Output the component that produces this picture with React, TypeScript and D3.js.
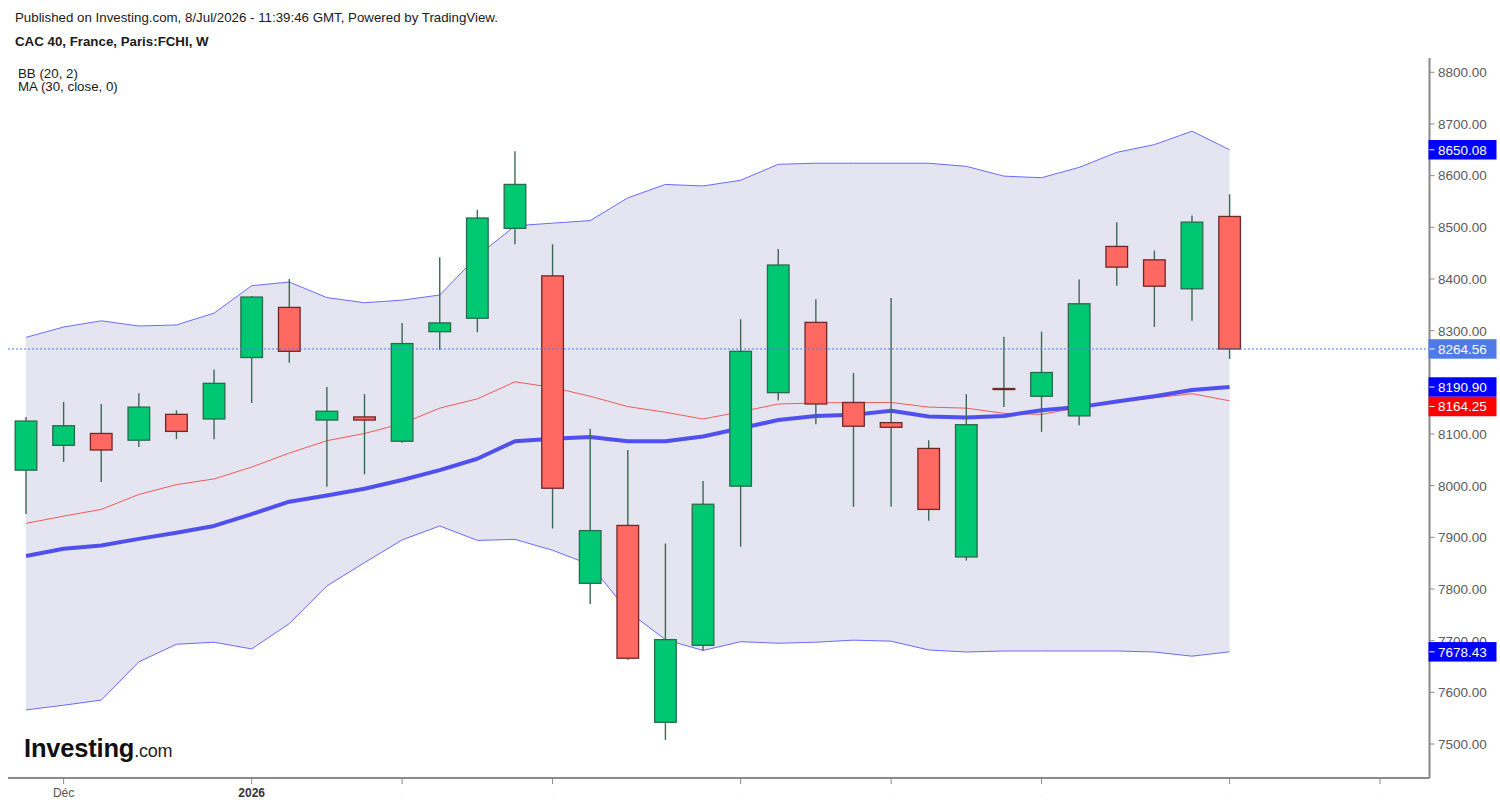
import React, { useEffect } from "react";
import * as d3 from "d3";

const weeks = [
  "2025-11-24", "2025-12-01", "2025-12-08", "2025-12-15", "2025-12-22", "2025-12-29",
  "2026-01-05", "2026-01-12", "2026-01-19", "2026-01-26", "2026-02-02", "2026-02-09",
  "2026-02-16", "2026-02-23", "2026-03-02", "2026-03-09", "2026-03-16", "2026-03-23",
  "2026-03-30", "2026-04-06", "2026-04-13", "2026-04-20", "2026-04-27", "2026-05-04",
  "2026-05-11", "2026-05-18", "2026-05-25", "2026-06-01", "2026-06-08", "2026-06-15",
  "2026-06-22", "2026-06-29", "2026-07-06",
];

const openP = [8030, 8078, 8101, 8088, 8138, 8129, 8248, 8345, 8127, 8133, 8086, 8298, 8324, 8498, 8406, 7811, 7923, 7542, 7691, 7999, 8180, 8316, 8161, 8122, 8072, 7862, 8188, 8173, 8135, 8463, 8437, 8381, 8521];
const closeP = [8125, 8116, 8069, 8152, 8105, 8198, 8365, 8260, 8144, 8127, 8275, 8315, 8518, 8583, 7995, 7913, 7666, 7702, 7964, 8260, 8427, 8158, 8115, 8113, 7954, 8118, 8186, 8219, 8352, 8423, 8386, 8510, 8264.56];
const highP = [8133, 8162, 8158, 8179, 8146, 8225, 8367, 8400, 8191, 8177, 8315, 8442, 8534, 8647, 8467, 8110, 8069, 7888, 8009, 8322, 8458, 8361, 8218, 8363, 8088, 8177, 8288, 8298, 8399, 8510, 8455, 8523, 8564];
const lowP = [7945, 8046, 8007, 8075, 8090, 8090, 8160, 8238, 7998, 8022, 8083, 8263, 8297, 8467, 7917, 7771, 7663, 7508, 7681, 7882, 8165, 8119, 7959, 7959, 7932, 7855, 8152, 8104, 8117, 8387, 8307, 8319, 8245];

const upperBand = [8287, 8307, 8319, 8309, 8311, 8334, 8387, 8394, 8364, 8354, 8359, 8369, 8444, 8503, 8508, 8513, 8557, 8583, 8580, 8591, 8622, 8624, 8624, 8624, 8624, 8618, 8599, 8596, 8616, 8645, 8660, 8686, 8650.08];
const lowerBand = [7566, 7575, 7585, 7659, 7693, 7697, 7684, 7733, 7806, 7851, 7895, 7922, 7894, 7896, 7875, 7847, 7757, 7702, 7681, 7698, 7695, 7697, 7701, 7699, 7682, 7678, 7680, 7680, 7680, 7680, 7678, 7670, 7678.43];
const basisBand = [7927, 7941, 7954, 7983, 8002, 8013, 8036, 8063, 8087, 8101, 8120, 8150, 8168, 8201, 8190, 8173, 8153, 8142, 8129, 8143, 8158, 8160, 8161, 8161, 8152, 8150, 8140, 8138, 8151, 8162, 8170, 8178, 8164.25];
const ma30 = [7864, 7878, 7884, 7897, 7909, 7922, 7945, 7969, 7981, 7994, 8011, 8030, 8052, 8086, 8091, 8094, 8086, 8086, 8095, 8111, 8127, 8135, 8137, 8145, 8134, 8132, 8135, 8146, 8152, 8163, 8173, 8185, 8190.90];

const priceTicks = [7500, 7600, 7700, 7800, 7900, 8000, 8100, 8200, 8300, 8400, 8500, 8600, 8700, 8800];
const timeTicks = ["2025-12-01", "2026-01-05", "2026-02-02", "2026-03-02", "2026-04-06", "2026-05-04", "2026-06-01", "2026-07-06", "2026-08-03"];
const timeTickLabels = ["Déc", "2026", "", "", "", "", "", "", ""];

const FONT = "'Liberation Sans', Arial, sans-serif";

export default function App() {
  useEffect(() => {
    document.body.style.margin = "0";
  }, []);

  const W = 1500;
  const H = 807;
  const parse = d3.utcParse("%Y-%m-%d");
  const dates = weeks.map((w) => parse(w) as Date);
  const x = d3.scaleUtc().domain([dates[0], dates[dates.length - 1]]).range([26, 1229.6]);
  const y = d3.scaleLinear().domain([7500, 8800]).range([744, 72.3]);

  const plotLeft = 8;
  const axisX = 1429.5;
  const axisY = 778;
  const step = x(dates[1]) - x(dates[0]);
  const bodyW = step * 0.575;

  const lineGen = d3
    .line<number>()
    .x((_, i) => x(dates[i]))
    .y((d) => y(d));
  const areaGen = d3
    .area<number>()
    .x((_, i) => x(dates[i]))
    .y0((_, i) => y(lowerBand[i]))
    .y1((d) => y(d));

  const last = closeP.length - 1;
  const tagDefs = [
    { v: upperBand[last], c: "#0000ff" },
    { v: closeP[last], c: "#4f7be8" },
    { v: ma30[last], c: "#0000ff" },
    { v: basisBand[last], c: "#ff0000" },
    { v: lowerBand[last], c: "#0000ff" },
  ];
  const tagH = 19.5;
  const tags = tagDefs
    .map((t) => ({ ...t, cy: y(t.v) }))
    .sort((a, b) => a.cy - b.cy);
  for (let i = 1; i < tags.length; i++) {
    if (tags[i].cy < tags[i - 1].cy + tagH) tags[i].cy = tags[i - 1].cy + tagH;
  }

  return (
    <svg
      width={W}
      height={H}
      style={{ position: "absolute", left: 0, top: 0, background: "#fff" }}
      fontFamily={FONT}
    >
      <rect x={0} y={0} width={W} height={H} fill="#ffffff" />
      {/* header */}
      <text x={15} y={22} fontSize={13.3} fill="#1a1a1a">
        Published on Investing.com, 8/Jul/2026 - 11:39:46 GMT, Powered by TradingView.
      </text>
      <text x={15} y={45.5} fontSize={13.3} fontWeight="bold" fill="#1a1a1a">
        CAC 40, France, Paris:FCHI, W
      </text>
      <text x={18} y={77.5} fontSize={13.3} fill="#1a1a1a">
        BB (20, 2)
      </text>
      <text x={18} y={91} fontSize={13.3} fill="#1a1a1a">
        MA (30, close, 0)
      </text>

      {/* Bollinger band fill */}
      <path d={areaGen(upperBand) || ""} fill="#e5e5f1" />
      <path d={lineGen(upperBand) || ""} fill="none" stroke="#6a6aff" strokeWidth={1} />
      <path d={lineGen(lowerBand) || ""} fill="none" stroke="#6a6aff" strokeWidth={1} />
      <path d={lineGen(basisBand) || ""} fill="none" stroke="#ee5a5a" strokeWidth={1} />
      <path d={lineGen(ma30) || ""} fill="none" stroke="#5050ee" strokeWidth={4} strokeLinejoin="round" />

      {/* candles */}
      {dates.map((d, i) => {
        const cx = x(d);
        const up = closeP[i] >= openP[i];
        const top = y(Math.max(openP[i], closeP[i]));
        const bot = y(Math.min(openP[i], closeP[i]));
        const h = Math.max(1, bot - top);
        return (
          <g key={i}>
            <line
              x1={cx}
              x2={cx}
              y1={y(highP[i])}
              y2={y(lowP[i])}
              stroke="#3b6a55"
              strokeWidth={1.4}
            />
            <rect
              x={cx - bodyW / 2}
              y={top}
              width={bodyW}
              height={h}
              fill={up ? "#00c872" : "#ff6961"}
              stroke={up ? "#2a6a4c" : "#6e2828"}
              strokeWidth={1.3}
            />
          </g>
        );
      })}

      {/* last price dotted line */}
      <line
        x1={plotLeft}
        x2={axisX}
        y1={y(closeP[last])}
        y2={y(closeP[last])}
        stroke="#4f7be8"
        strokeWidth={1}
        strokeDasharray="2,2"
      />

      {/* axes */}
      <line x1={plotLeft} x2={axisX} y1={axisY} y2={axisY} stroke="#8a8a8a" strokeWidth={2} />
      <line x1={axisX} x2={axisX} y1={58} y2={axisY} stroke="#8a8a8a" strokeWidth={2} />

      {priceTicks.map((p) => (
        <g key={p}>
          <line x1={axisX} x2={axisX + 5} y1={y(p)} y2={y(p)} stroke="#8a8a8a" strokeWidth={1} />
          <text x={1438} y={y(p)} dy="0.36em" fontSize={13.5} fill="#5a5a5a">
            {p.toFixed(2)}
          </text>
        </g>
      ))}

      {timeTicks.map((t, i) => {
        const tx = x(parse(t) as Date);
        const lbl = timeTickLabels[i];
        return (
          <g key={t}>
            <line x1={tx} x2={tx} y1={axisY} y2={axisY + 6} stroke="#8a8a8a" strokeWidth={1} />
            {lbl ? (
              <text
                x={tx}
                y={797}
                textAnchor="middle"
                fontSize={12}
                fontWeight={lbl === "2026" ? "bold" : "normal"}
                fill={lbl === "2026" ? "#333" : "#555"}
              >
                {lbl}
              </text>
            ) : (
              <text x={tx} y={797} textAnchor="middle" fontSize={6} fill="#b0b0b0">
                .
              </text>
            )}
          </g>
        );
      })}

      {/* price tags */}
      {tags.map((t, i) => (
        <g key={i}>
          <rect x={axisX - 1} y={t.cy - tagH / 2} width={68} height={tagH} fill={t.c} />
          <line x1={axisX} x2={axisX + 5} y1={t.cy} y2={t.cy} stroke="#ffffff" strokeWidth={1} />
          <text x={1438} y={t.cy} dy="0.36em" fontSize={13.5} fill="#ffffff">
            {t.v.toFixed(2)}
          </text>
        </g>
      ))}

      {/* logo */}
      <text x={24} y={757} fontSize={25.5} fontWeight="bold" fill="#111" letterSpacing={-0.2}>
        Investing
        <tspan fontSize={18} fontWeight="normal" fill="#222" letterSpacing={-0.2}>
          .com
        </tspan>
      </text>
    </svg>
  );
}
